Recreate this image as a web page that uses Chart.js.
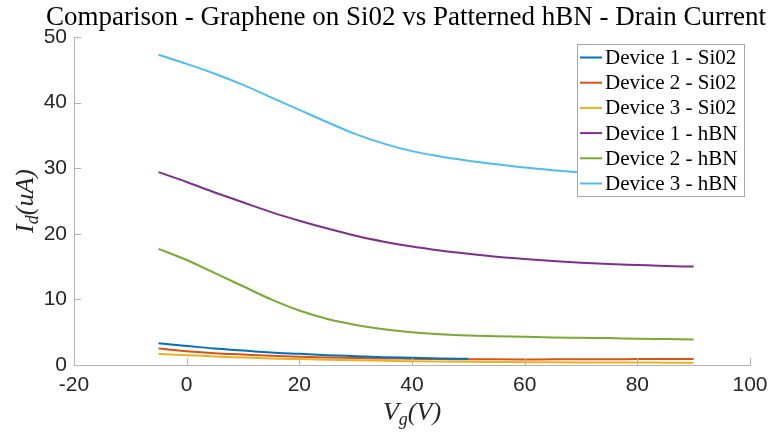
<!DOCTYPE html>
<html>
<head>
<meta charset="utf-8">
<script src="https://cdn.jsdelivr.net/npm/chart.js@4/dist/chart.umd.min.js"></script>
<style>
  html, body { margin: 0; padding: 0; background: #fff; }
</style>
</head>
<body>
<canvas id="drainChart" width="782" height="432"></canvas>
<script>
// ===== datos =====
const gateVoltage = [-5, 0, 5, 10, 15, 20, 25, 30, 35, 40, 45, 50, 55, 60, 65, 70, 75, 80, 85, 90];
const gateVoltageDev1Si = [-5, 0, 5, 10, 15, 20, 25, 30, 35, 40, 45, 50];

const dev1Si02 = [3.3, 2.9, 2.5, 2.2, 1.9, 1.7, 1.5, 1.35, 1.2, 1.1, 1.0, 0.95];
const dev2Si02 = [2.5, 2.1, 1.8, 1.6, 1.4, 1.27, 1.15, 1.05, 1.0, 0.95, 0.9, 0.88, 0.86, 0.85, 0.86, 0.87, 0.88, 0.9, 0.91, 0.92];
const dev3Si02 = [1.7, 1.5, 1.3, 1.15, 1.0, 0.9, 0.8, 0.72, 0.65, 0.58, 0.53, 0.49, 0.46, 0.43, 0.41, 0.39, 0.38, 0.37, 0.36, 0.35];
const dev1hBN = [29.4, 27.9, 26.3, 24.8, 23.3, 22.0, 20.8, 19.7, 18.8, 18.05, 17.45, 16.95, 16.5, 16.15, 15.85, 15.6, 15.4, 15.25, 15.1, 15.0];
const dev2hBN = [17.7, 16.0, 14.0, 12.0, 10.0, 8.3, 7.0, 6.1, 5.45, 5.0, 4.7, 4.5, 4.4, 4.3, 4.2, 4.15, 4.1, 4.0, 3.95, 3.9];
const dev3hBN = [47.3, 45.9, 44.4, 42.7, 40.8, 38.9, 37.0, 35.2, 33.75, 32.6, 31.8, 31.15, 30.6, 30.1, 29.7, 29.35, 29.05, 28.75, 28.5, 28.3];

const seriesLabels = ["Device 1 - Si02", "Device 2 - Si02", "Device 3 - Si02", "Device 1 - hBN", "Device 2 - hBN", "Device 3 - hBN"];
const seriesColors = ["#0072BD", "#D95319", "#EDB120", "#7E2F8E", "#77AC30", "#4DBEEE"];

const xTicks = [-20, 0, 20, 40, 60, 80, 100];
const yTicks = [0, 10, 20, 30, 40, 50];

const titleText = "Comparison - Graphene on Si02 vs Patterned hBN - Drain Current";

const toPoints = (xs, ys) => ys.map((y, i) => ({ x: xs[i], y }));

const seriesData = [
  toPoints(gateVoltageDev1Si, dev1Si02),
  toPoints(gateVoltage, dev2Si02),
  toPoints(gateVoltage, dev3Si02),
  toPoints(gateVoltage, dev1hBN),
  toPoints(gateVoltage, dev2hBN),
  toPoints(gateVoltage, dev3hBN)
];

const AXIS_GRAY = "#b3b3b3";
const TEXT_DARK = "#262626";
const SERIF = "'Liberation Serif', 'DejaVu Serif', serif";

// ===== decoraciones estilo MATLAB =====
const matlabDecor = {
  id: "matlabDecor",
  afterDraw(chart) {
    const { ctx, chartArea, scales } = chart;
    const xs = scales.x, ys = scales.y;
    ctx.save();

    // ticks hacia dentro
    ctx.strokeStyle = AXIS_GRAY;
    ctx.lineWidth = 1;
    ctx.beginPath();
    xTicks.forEach(v => {
      const px = Math.round(xs.getPixelForValue(v)) + 0.5;
      ctx.moveTo(px, chartArea.bottom);
      ctx.lineTo(px, chartArea.bottom - 7);
    });
    yTicks.forEach(v => {
      const py = Math.round(ys.getPixelForValue(v)) + 0.5;
      ctx.moveTo(chartArea.left, py);
      ctx.lineTo(chartArea.left + 7, py);
    });
    ctx.stroke();

    // titulo
    ctx.fillStyle = "#000";
    ctx.font = "27px " + SERIF;
    ctx.textAlign = "center";
    ctx.textBaseline = "alphabetic";
    ctx.fillText(titleText, (chartArea.left + chartArea.right) / 2 - 6, 25);

    // etiquetas de ejes con subindice
    const drawSubLabel = (main, sub, rest, cx, cy, size) => {
      ctx.font = "italic " + size + "px " + SERIF;
      const wMain = ctx.measureText(main).width;
      ctx.font = "italic " + Math.round(size * 0.7) + "px " + SERIF;
      const wSub = ctx.measureText(sub).width;
      ctx.font = "italic " + size + "px " + SERIF;
      const wRest = ctx.measureText(rest).width;
      let x0 = cx - (wMain + wSub + wRest) / 2;
      ctx.textAlign = "left";
      ctx.fillStyle = TEXT_DARK;
      ctx.fillText(main, x0, cy);
      ctx.font = "italic " + Math.round(size * 0.7) + "px " + SERIF;
      ctx.fillText(sub, x0 + wMain, cy + size * 0.2);
      ctx.font = "italic " + size + "px " + SERIF;
      ctx.fillText(rest, x0 + wMain + wSub, cy);
    };
    drawSubLabel("V", "g", "(V)", (chartArea.left + chartArea.right) / 2, 420, 26);

    ctx.save();
    ctx.translate(33, (chartArea.top + chartArea.bottom) / 2);
    ctx.rotate(-Math.PI / 2);
    drawSubLabel("I", "d", "(uA)", 0, 0, 26);
    ctx.restore();

    // leyenda
    const lx = 577, ly = 44, lw = 167, lh = 152;
    ctx.fillStyle = "#fff";
    ctx.fillRect(lx, ly, lw, lh);
    ctx.strokeStyle = "#a6a6a6";
    ctx.strokeRect(lx + 0.5, ly + 0.5, lw, lh);
    ctx.font = "21px " + SERIF;
    ctx.textAlign = "left";
    ctx.textBaseline = "middle";
    chart.data.datasets.forEach((ds, i) => {
      const rowY = ly + 13.5 + i * 25.2;
      ctx.strokeStyle = ds.borderColor;
      ctx.lineWidth = 2;
      ctx.beginPath();
      ctx.moveTo(lx + 3, rowY);
      ctx.lineTo(lx + 25, rowY);
      ctx.stroke();
      ctx.fillStyle = "#000";
      ctx.fillText(ds.label, lx + 28, rowY + 1);
    });

    ctx.restore();
  }
};

// ===== grafico =====
const ctx = document.getElementById("drainChart").getContext("2d");

new Chart(ctx, {
  type: "line",
  data: {
    datasets: seriesData.map((pts, i) => ({
      label: seriesLabels[i],
      data: pts,
      borderColor: seriesColors[i],
      backgroundColor: seriesColors[i],
      borderWidth: 2,
      pointRadius: 0,
      fill: false,
      cubicInterpolationMode: "monotone"
    }))
  },
  options: {
    responsive: false,
    animation: false,
    devicePixelRatio: 1,
    layout: { padding: { top: 37, right: 32, left: 0, bottom: 0 } },
    plugins: {
      legend: { display: false },
      title: { display: false },
      tooltip: { enabled: false }
    },
    scales: {
      x: {
        type: "linear",
        min: -20,
        max: 100,
        afterBuildTicks: s => { s.ticks = xTicks.map(v => ({ value: v })); },
        afterFit: s => { s.height = 67; },
        grid: { drawOnChartArea: false, drawTicks: false },
        border: { color: AXIS_GRAY, width: 1 },
        ticks: {
          padding: 8,
          color: TEXT_DARK,
          font: { family: "'Liberation Sans', Arial, sans-serif", size: 21 },
          maxRotation: 0,
          callback: v => String(v)
        }
      },
      y: {
        min: 0,
        max: 50,
        afterBuildTicks: s => { s.ticks = yTicks.map(v => ({ value: v })); },
        afterFit: s => { s.width = 74; },
        grid: { drawOnChartArea: false, drawTicks: false },
        border: { color: AXIS_GRAY, width: 1 },
        ticks: {
          padding: 7,
          color: TEXT_DARK,
          font: { family: "'Liberation Sans', Arial, sans-serif", size: 21 },
          callback: v => String(v)
        }
      }
    }
  },
  plugins: [matlabDecor]
});
</script>
</body>
</html>
